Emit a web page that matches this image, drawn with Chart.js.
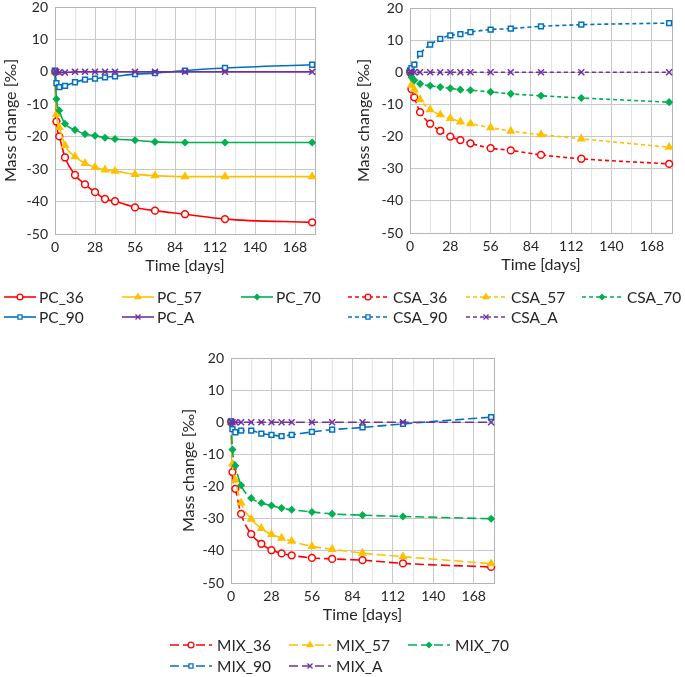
<!DOCTYPE html>
<html>
<head>
<meta charset="utf-8">
<script src="https://cdn.jsdelivr.net/npm/chart.js@4.4.1/dist/chart.umd.min.js"></script>
<style>
  html, body { margin: 0; padding: 0; background: #fff; }
  #wrap { position: relative; width: 685px; height: 677px; }
  #wrap canvas { position: absolute; left: 0; top: 0; }
</style>
</head>
<body>
<div id="wrap">
  <canvas id="pc" width="685" height="677"></canvas>
  <canvas id="csa" width="685" height="677"></canvas>
  <canvas id="mix" width="685" height="677"></canvas>
</div>
<script>
// время измерений, сутки
const days = [0, 1, 3, 7, 14, 21, 28, 35, 42, 56, 70, 91, 119, 180];

// PC
const pc36 = [0, -15.3, -19.9, -26.4, -31.8, -34.7, -37.1, -39.2, -39.9, -41.8, -42.8, -43.9, -45.4, -46.4];
const pc57 = [0, -13.0, -17.1, -22.7, -26.1, -28.2, -29.4, -30.2, -30.6, -31.6, -32.0, -32.3, -32.3, -32.3];
const pc70 = [0, -8.4, -11.9, -16.0, -17.9, -19.2, -19.7, -20.3, -20.7, -21.1, -21.6, -21.8, -21.8, -21.8];
const pc90 = [0.4, -3.5, -4.7, -4.3, -3.2, -2.4, -2.1, -1.7, -1.4, -0.7, -0.4, 0.4, 1.2, 2.2];
const pcA  = [0.3, 0, -0.2, -0.2, 0, 0, 0, 0, 0, 0, 0, 0, 0, 0];

// CSA
const csa36 = [0, -5.2, -7.8, -12.4, -16.0, -18.2, -20.0, -21.1, -22.1, -23.6, -24.3, -25.7, -26.9, -28.5];
const csa57 = [0, -4.0, -5.4, -8.5, -11.6, -13.2, -14.3, -15.4, -16.0, -17.2, -18.3, -19.4, -20.7, -23.3];
const csa70 = [0, -1.5, -2.5, -3.6, -4.2, -4.6, -5.0, -5.4, -5.6, -6.1, -6.7, -7.3, -8.0, -9.3];
const csa90 = [0.6, 1.3, 2.4, 5.7, 8.6, 10.4, 11.5, 11.9, 12.5, 13.3, 13.6, 14.3, 14.8, 15.3];
const csaA  = [0.2, 0, 0, 0, 0, 0, 0, 0, 0, 0, 0, 0, 0, 0];

// MIX
const mix36 = [0, -15.5, -20.7, -28.5, -34.8, -37.8, -39.8, -40.8, -41.4, -42.2, -42.5, -42.9, -43.9, -45.0];
const mix57 = [0, -12.9, -18.0, -25.1, -30.1, -33.0, -34.9, -36.0, -37.0, -38.6, -39.5, -40.7, -41.8, -44.0];
const mix70 = [0, -8.5, -13.5, -19.6, -23.6, -25.1, -25.9, -26.7, -27.2, -27.9, -28.5, -28.9, -29.3, -30.0];
const mix90 = [0.3, -2.1, -3.1, -2.6, -2.6, -3.5, -3.9, -4.3, -3.9, -3.0, -2.3, -1.6, -0.5, 1.6];
const mixA  = [0.2, 0, 0, 0, 0, 0, 0, 0, 0, 0, 0, 0, 0, 0];

const suffixes = ['36', '57', '70', '90', 'A'];

// стиль серий (по индексу)
const colors   = ['#FF0000', '#FFC000', '#00B050', '#0070C0', '#7030A0'];
const pStyles  = ['circle', 'triangle', 'rectRot', 'rect', 'crossRot'];
const pFill    = ['#FFFFFF', '#FFC000', '#00B050', '#FFFFFF', '#7030A0'];
const pRadius  = [3.4, 3.8, 3.0, 3.4, 4.2];

const FONT = 'Lato, "Open Sans", sans-serif';
const TXT = '#262626';
Chart.defaults.font.family = FONT;
Chart.defaults.color = TXT;

function makeSets(prefix, series, dash) {
  return series.map((vals, i) => ({
    label: prefix + '_' + suffixes[i],
    data: days.map((d, k) => ({ x: d, y: vals[k] })),
    order: -i,               // как в Excel: поздние серии сверху
    borderColor: colors[i],
    backgroundColor: colors[i],
    borderWidth: 1.6,
    borderDash: dash,
    pointStyle: pStyles[i],
    pointRadius: pRadius[i],
    pointBorderWidth: 1.5,
    pointBackgroundColor: pFill[i],
    pointBorderColor: colors[i],
    cubicInterpolationMode: 'monotone',
    clip: false
  }));
}

// рамка области графика
const frame = {
  id: 'frame',
  beforeDatasetsDraw(chart) {
    const a = chart.chartArea, ctx = chart.ctx;
    ctx.save();
    ctx.strokeStyle = '#b4b4b4';
    ctx.lineWidth = 1;
    ctx.strokeRect(Math.round(a.left) + 0.5, Math.round(a.top) + 0.5,
                   Math.round(a.right - a.left), Math.round(a.bottom - a.top));
    ctx.restore();
  }
};

// своя легенда: линия + маркер + текст, 3 колонки x 2 строки
const boxLegend = {
  id: 'boxLegend',
  afterDraw(chart, args, o) {
    const ctx = chart.ctx;
    ctx.save();
    ctx.font = o.size + 'px ' + FONT;
    ctx.textBaseline = 'middle';
    chart.data.datasets.forEach((ds, i) => {
      const col = i < 3 ? i : i - 3;
      const row = i < 3 ? 0 : 1;
      const x = o.cols[col], y = o.rows[row];
      ctx.strokeStyle = ds.borderColor;
      ctx.lineWidth = 1.6;
      ctx.setLineDash(ds.borderDash || []);
      ctx.beginPath();
      ctx.moveTo(x, y);
      ctx.lineTo(x + o.len, y);
      ctx.stroke();
      ctx.setLineDash([]);
      ctx.fillStyle = ds.pointBackgroundColor;
      ctx.strokeStyle = ds.pointBorderColor;
      ctx.lineWidth = 1.3;
      Chart.helpers.drawPoint(ctx, {
        pointStyle: ds.pointStyle, radius: ds.pointRadius * 0.85, borderWidth: 1.3, rotation: 0
      }, x + o.len / 2, y);
      ctx.fillStyle = TXT;
      ctx.fillText(ds.label, x + o.len + o.gap, y + 1);
    });
    ctx.restore();
  }
};

function makeChart(id, datasets, pad, yWidth, legend) {
  return new Chart(document.getElementById(id), {
    type: 'line',
    data: { datasets },
    plugins: [frame, boxLegend],
    options: {
      responsive: false,
      animation: false,
      layout: { padding: pad },
      plugins: { legend: { display: false }, tooltip: { enabled: false }, boxLegend: legend },
      scales: {
        x: {
          type: 'linear', min: 0, max: 182,
          afterFit: s => { s.height = 41; s.paddingLeft = 0; s.paddingRight = 0; },
          ticks: {
            stepSize: 14, autoSkip: false, maxRotation: 0, padding: 5,
            font: { size: 14 }, color: TXT,
            callback: v => (v % 28 === 0 ? v : '')
          },
          grid: {
            drawTicks: false,
            color: c => (c.tick && c.tick.value % 28 === 0 ? '#c8c8c8' : '#e3e3e3')
          },
          border: { display: false },
          title: { display: true, text: 'Time [days]', font: { size: 16 }, color: TXT, padding: 0 }
        },
        y: {
          min: -50, max: 20,
          afterFit: s => { s.width = yWidth; s.paddingTop = 0; s.paddingBottom = 0; },
          ticks: {
            stepSize: 5, padding: 7, font: { size: 14 }, color: TXT,
            callback: v => (v % 10 === 0 ? v : '')
          },
          grid: {
            drawTicks: false,
            color: c => (c.tick && c.tick.value % 10 === 0 ? '#c8c8c8' : '#e3e3e3')
          },
          border: { display: false },
          title: { display: true, text: 'Mass change [‰]', font: { size: 16 }, color: TXT, padding: 0 }
        }
      }
    }
  });
}

makeChart('pc', makeSets('PC', [pc36, pc57, pc70, pc90, pcA], []),
  { left: 1, right: 370, top: 7, bottom: 677 - 234 - 41 }, 54,
  { cols: [4, 122, 241], rows: [297, 317], len: 32, gap: 3, size: 15.5 });

makeChart('csa', makeSets('CSA', [csa36, csa57, csa70, csa90, csaA], [4, 3]),
  { left: 354, right: 13, top: 8, bottom: 677 - 233 - 41 }, 56,
  { cols: [348, 466, 582], rows: [297, 317], len: 40, gap: 5, size: 15.5 });

makeChart('mix', makeSets('MIX', [mix36, mix57, mix70, mix90, mixA], [9, 4]),
  { left: 179, right: 685 - 494, top: 358, bottom: 677 - 583 - 41 }, 52,
  { cols: [170, 289, 408], rows: [645, 666], len: 42, gap: 5, size: 15.5 });
</script>
</body>
</html>
